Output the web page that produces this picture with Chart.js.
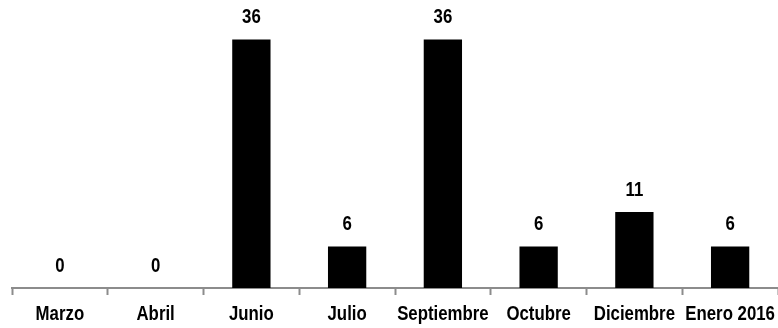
<!DOCTYPE html>
<html>
<head>
<meta charset="utf-8">
<script src="https://cdn.jsdelivr.net/npm/chart.js@4"></script>
<style>
  html, body { margin: 0; padding: 0; background: #ffffff; }
  #wrap { width: 778px; height: 328px; position: relative; }
</style>
</head>
<body>
<div id="wrap"><canvas id="c" width="778" height="328"></canvas></div>
<script>
// Monthly counts
const months = ['Marzo', 'Abril', 'Junio', 'Julio', 'Septiembre', 'Octubre', 'Diciembre', 'Enero 2016'];
const counts = [0, 0, 36, 6, 36, 6, 11, 6];
const yMax = 40;

const FONT = "bold 20px 'Liberation Sans', Arial, sans-serif";
const NARROW = 0.84;   // horizontal squeeze for a narrow bold face

// Writes text horizontally condensed, centred on x
function narrowText(ctx, text, x, y) {
  ctx.save();
  ctx.translate(x, y);
  ctx.scale(NARROW, 1);
  ctx.fillText(text, 0, 0);
  ctx.restore();
}

// Value above each bar and month name under each category
const barText = {
  id: 'barText',
  afterDatasetsDraw(chart) {
    const ctx = chart.ctx;
    const meta = chart.getDatasetMeta(0);
    const xScale = chart.scales.x;
    ctx.save();
    ctx.font = FONT;
    ctx.fillStyle = '#000000';
    ctx.textAlign = 'center';
    ctx.textBaseline = 'alphabetic';
    meta.data.forEach((bar, i) => {
      narrowText(ctx, String(counts[i]), bar.x, bar.y - 16.5);
    });
    months.forEach((m, i) => {
      narrowText(ctx, m, xScale.getPixelForTick(i), xScale.bottom + 25);
    });
    ctx.restore();
  }
};

new Chart(document.getElementById('c'), {
  type: 'bar',
  data: {
    labels: months,
    datasets: [{
      data: counts,
      backgroundColor: '#000000',
      borderWidth: 0,
      categoryPercentage: 1.0,
      barPercentage: 0.4
    }]
  },
  options: {
    responsive: false,
    animation: false,
    devicePixelRatio: 1,
    layout: { padding: { left: 12, right: 0, top: 12, bottom: 33 } },
    plugins: { legend: { display: false }, tooltip: { enabled: false } },
    scales: {
      x: {
        offset: true,
        grid: {
          offset: true,
          drawOnChartArea: false,
          drawTicks: true,
          tickLength: 7,
          tickWidth: 2,
          tickColor: '#8c8c8c'
        },
        border: { display: true, color: '#8c8c8c', width: 2 },
        ticks: { display: false }
      },
      y: {
        display: false,
        min: 0,
        max: yMax
      }
    }
  },
  plugins: [barText]
});
</script>
</body>
</html>
